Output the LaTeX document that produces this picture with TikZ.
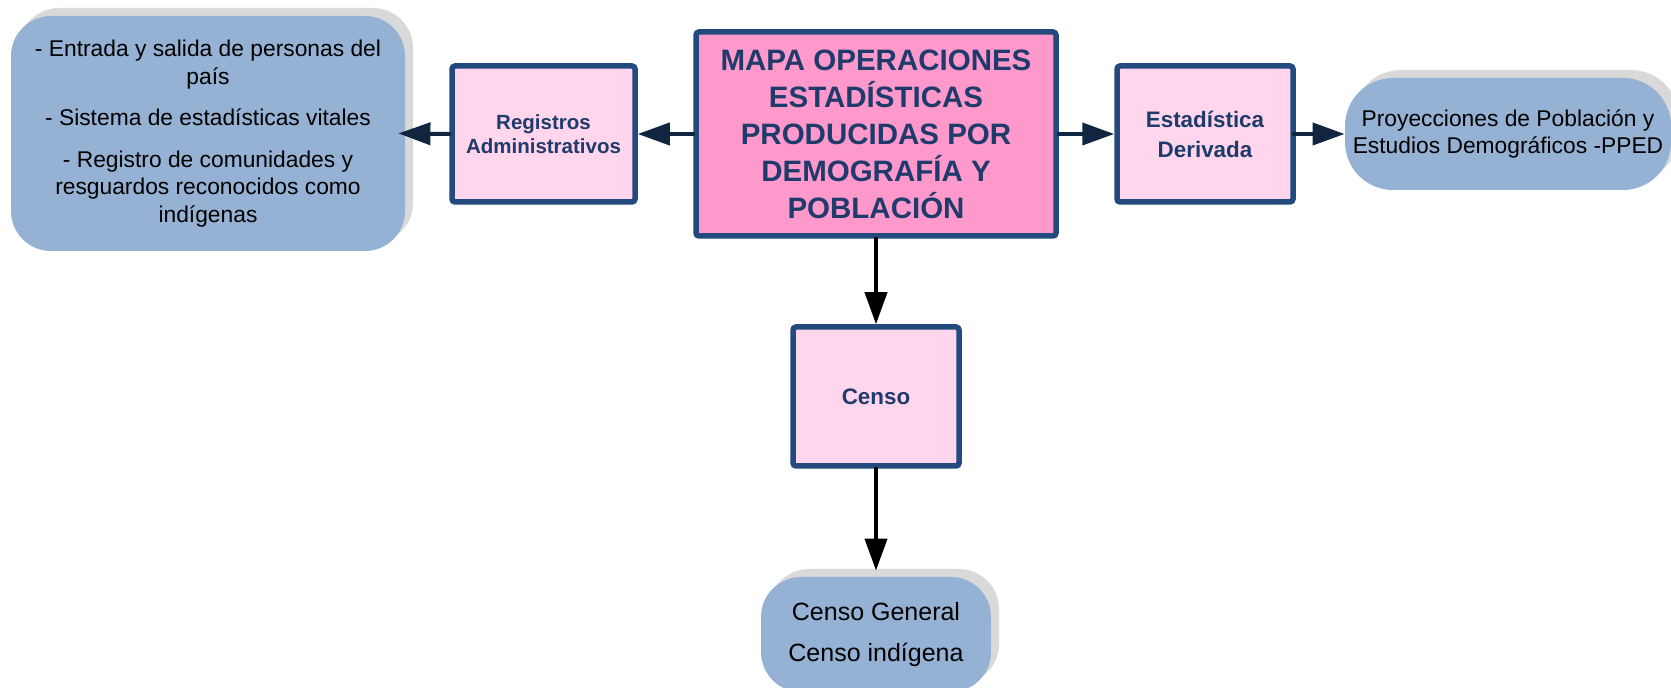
\documentclass[tikz,border=0pt]{standalone}
\usepackage{fontspec}
\setmainfont{Liberation Sans}
\usetikzlibrary{positioning,shadows,arrows.meta}
\definecolor{boxborder}{HTML}{234A7E}
\definecolor{boxtext}{HTML}{1F3B6B}
\definecolor{lightpink}{HTML}{FFD6EB}
\definecolor{mainpink}{HTML}{FF99CC}
\definecolor{listblue}{HTML}{95B1D3}
\definecolor{shadowgray}{HTML}{D9D9D9}
\definecolor{arrowblue}{HTML}{10253F}

\begin{document}
\begin{tikzpicture}[x=0.5pt,y=-0.5pt,
opbox/.style={draw=boxborder,line width=2.75pt,fill=lightpink,rounded corners=1.5pt,
    text=boxtext,align=center,inner sep=2pt},
listbox/.style={fill=listblue,rounded corners=20pt,align=center,text=black,inner sep=2pt,
    drop shadow={shadow xshift=4pt,shadow yshift=4pt,fill=shadowgray,opacity=1}},
link/.style={-{Triangle[length=16pt,width=11pt]},line width=2pt,line cap=round,draw=arrowblue},
down/.style={link,draw=black}]
\useasboundingbox (0,0) rectangle (1671,688);

% central box
\node (mapa) [opbox,fill=mainpink,minimum width=180pt,minimum height=102pt,
    font=\fontsize{14.75pt}{18.5pt}\selectfont\bfseries] at (876,134)
    {MAPA OPERACIONES\\ESTADÍSTICAS\\PRODUCIDAS POR\\DEMOGRAFÍA Y\\POBLACIÓN};

% operations
\node (registros) [opbox,minimum width=91.5pt,minimum height=68pt,
    font=\fontsize{10.25pt}{12.25pt}\selectfont\bfseries] at (543.5,134)
    {Registros\\Administrativos};
\node (derivada) [opbox,minimum width=88pt,minimum height=68pt,
    font=\fontsize{11.2pt}{15pt}\selectfont\bfseries] at (1205,134)
    {Estadística\\Derivada};
\node (censo) [opbox,minimum width=83pt,minimum height=69.5pt,
    font=\fontsize{11.2pt}{15pt}\selectfont\bfseries] at (876,396.5) {Censo};

% products
\node (registrolista) [listbox,minimum width=197pt,minimum height=117.5pt,
    font=\fontsize{11.4pt}{13.75pt}\selectfont] at (208,133.5)
    {- Entrada y salida de personas del\\país\\[7pt]
     - Sistema de estadísticas vitales\\[7pt]
     - Registro de comunidades y\\resguardos reconocidos como\\indígenas};
\node (ppedlista) [listbox,minimum width=163pt,minimum height=56pt,rounded corners=24pt,
    font=\fontsize{11.4pt}{13.9pt}\selectfont] at (1508,134)
    {Proyecciones de Población y\\Estudios Demográficos -PPED};
\node (censolista) [listbox,minimum width=115pt,minimum height=57.5pt,
    font=\fontsize{12.5pt}{14.5pt}\selectfont] at (876,634.5)
    {Censo General\\[6pt]Censo indígena};

% connectors
\draw [link] (mapa.west) -- (registros.east);
\draw [link,shorten >=-3.5pt] (registros.west) -- (registrolista.east);
\draw [link] (mapa.east) -- (derivada.west);
\draw [link,shorten <=-1pt] (derivada.east) -- (ppedlista.west);
\draw [down] (mapa.south) -- (censo.north);
\draw [down] (censo.south) -- ([yshift=3pt]censolista.north);
\end{tikzpicture}
\end{document}
